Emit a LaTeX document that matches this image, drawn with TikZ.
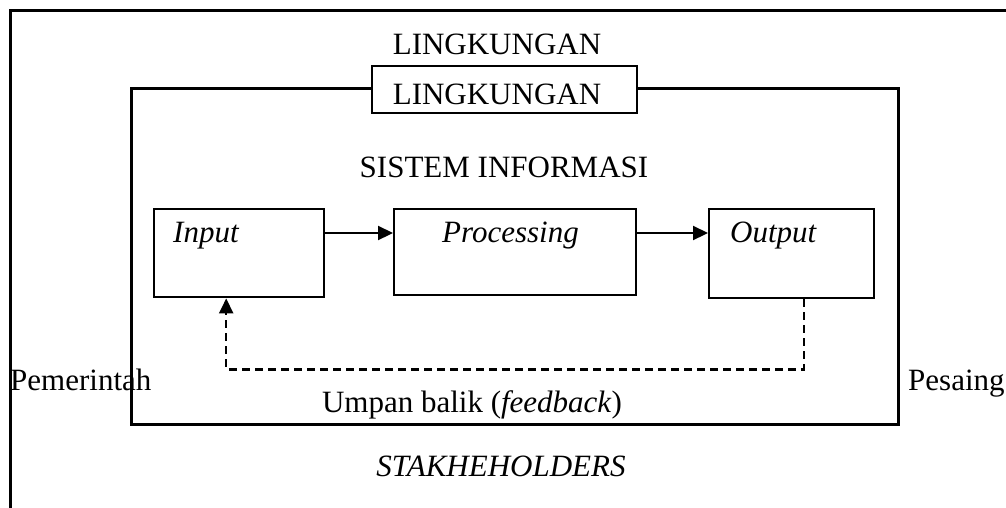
\documentclass[tikz,border=0pt]{standalone}
\usepackage{fontspec}
\setmainfont{Liberation Serif}
\usetikzlibrary{arrows.meta,calc}
\begin{document}
\begin{tikzpicture}[x=1pt,y=-1pt,
  frame/.style={draw, line width=2.8pt, inner sep=0pt, anchor=north west},
  block/.style={draw, line width=2.4pt, inner sep=0pt, anchor=north west},
  lbl/.style={font=\fontsize{31}{36}\selectfont, anchor=base, inner sep=0pt},
  lblw/.style={lbl, anchor=base west},
  flow/.style={line width=2.2pt, -{Triangle[length=15pt,width=14pt]}},
  fb/.style={line width=2.2pt, dash pattern=on 8pt off 5pt, -{Triangle[length=15pt,width=14pt]}}]
\useasboundingbox (0,0) rectangle (1006,507);

% outer environment frame (runs off the page on the right and bottom)
\node[frame, minimum width=1100pt, minimum height=600pt] (outer) at (9,9) {};

% information system frame
\node[frame, minimum width=767pt, minimum height=336pt] (sys) at (130,87) {};

% environment tab sitting on the top edge of the system frame
\node[block, fill=white, minimum width=265pt, minimum height=47pt] (env) at (371,65) {};

% process blocks
\node[block, minimum width=170pt, minimum height=88pt] (input) at (153,208) {};
\node[block, minimum width=242pt, minimum height=86pt] (proc) at (393,208) {};
\node[block, minimum width=165pt, minimum height=89pt] (output) at (708,208) {};

% texts
\node[lbl] (tenv) at (497,54) {LINGKUNGAN};
\node[lbl] (tenvbox) at (497,104) {LINGKUNGAN};
\node[lbl] (tsys) at (504,177) {SISTEM INFORMASI};
\node[lblw] (tin) at (173,242) {\itshape Input};
\node[lblw] (tproc) at (442,242) {\itshape Processing};
\node[lblw] (tout) at (730,242) {\itshape Output};
\node[lblw] (tgov) at (10,390) {Pemerintah};
\node[lblw] (tcomp) at (908,390) {Pesaing};
\node[lbl] (tfb) at (472,412) {Umpan balik (\textit{feedback})};
\node[lbl] (tstake) at (501,476) {\itshape STAKHEHOLDERS};

% flow arrows
\draw[flow] ($(input.north east)+(0,25)$) -- ($(proc.north west)+(0,25)$);
\draw[flow] ($(proc.north east)+(0,25)$) -- ($(output.north west)+(0,25)$);

% feedback loop
\draw[fb] ($(output.south)+(12,0)$) -- ++(0,70) -| ($(input.south)+(-13,0)$);
\end{tikzpicture}
\end{document}
